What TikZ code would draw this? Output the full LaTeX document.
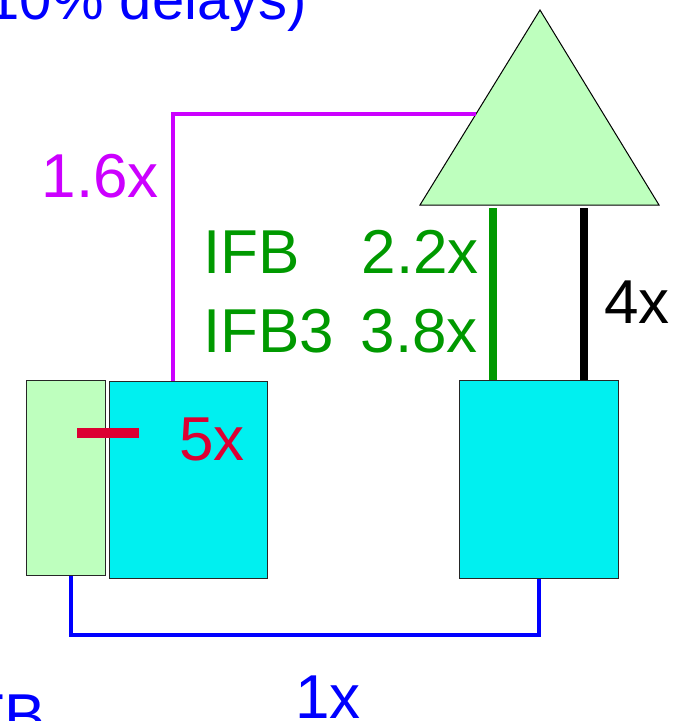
\documentclass[tikz,border=0pt]{standalone}
\usepackage{fontspec}
\setmainfont{Liberation Sans}
\usetikzlibrary{calc}
\definecolor{cyanbox}{RGB}{0,240,240}
\definecolor{lightgreen}{RGB}{190,255,190}
\definecolor{darkgreen}{RGB}{0,153,0}
\definecolor{magentaline}{RGB}{204,0,255}
\definecolor{redbar}{RGB}{220,0,50}
\definecolor{blueline}{RGB}{0,0,255}
\begin{document}
\begin{tikzpicture}[x=1pt,y=-1pt,
  box/.style={draw=black!85,line width=1.1pt,inner sep=0pt,anchor=north west},
  cyanrect/.style={box,fill=cyanbox},
  greenrect/.style={box,fill=lightgreen},
  lbl/.style={inner sep=0pt,font=\fontsize{62}{64}\selectfont},
  magline/.style={draw=magentaline,line width=4pt},
  bluewire/.style={draw=blueline,line width=4pt},
  greenwire/.style={draw=darkgreen,line width=8pt},
  blackwire/.style={draw=black,line width=8pt},
  redwire/.style={draw=redbar,line width=10pt}]
\useasboundingbox (0,0) rectangle (681,721);
% boxes
\node[greenrect,minimum width=79pt,minimum height=195pt] (gl) at (26,380) {};
\node[cyanrect,minimum width=158pt,minimum height=197pt] (cl) at (109,381) {};
\node[cyanrect,minimum width=159pt,minimum height=198pt] (cr) at (459,380) {};
% triangle
\coordinate (ta) at (540,10);
\coordinate (tl) at (420,205);
\coordinate (tr) at (659,205);
\draw[fill=lightgreen,draw=black,line width=1pt] (ta) -- (tl) -- (tr) -- cycle;
\coordinate (tm) at ($(ta)!0.535!(tl)$);
% connectors
\draw[magline] (tm) -| ([xshift=64pt]cl.north west);
\draw[bluewire] ([xshift=45pt]gl.south west) -- ++(0,59) -| ([xshift=80pt]cr.south west);
\coordinate (g1) at (493,208);
\draw[greenwire] (g1) -- (g1 |- cr.north);
\coordinate (b1) at (584,208);
\draw[blackwire] (b1) -- (b1 |- cr.north);
\coordinate (r1) at (77,433);
\coordinate (r2) at (139,433);
\draw[redwire] (r1) -- (r2);
% labels
\node[lbl,font=\fontsize{58}{60}\selectfont,text=blueline,anchor=base east] (ttop) at (307,19) {(10\% delays)};
\node[lbl,text=blueline,anchor=base east] (ttb) at (46,737) {TB};
\node[lbl,text=magentaline,anchor=base east] (t16) at (159,197) {1.6x};
\node[lbl,text=darkgreen,anchor=base west] (tifb) at (203,273) {IFB};
\node[lbl,text=darkgreen,anchor=base east] (t22) at (479,273) {2.2x};
\node[lbl,text=darkgreen,anchor=base west] (tifb3) at (203,352) {IFB3};
\node[lbl,text=darkgreen,anchor=base east] (t38) at (478,352) {3.8x};
\node[lbl,text=black,anchor=base east] (t4) at (670,323) {4x};
\node[lbl,text=redbar,anchor=base east] (t5) at (245,460) {5x};
\node[lbl,text=blueline,anchor=base east] (t1) at (361,718) {1x};
\end{tikzpicture}
\end{document}
